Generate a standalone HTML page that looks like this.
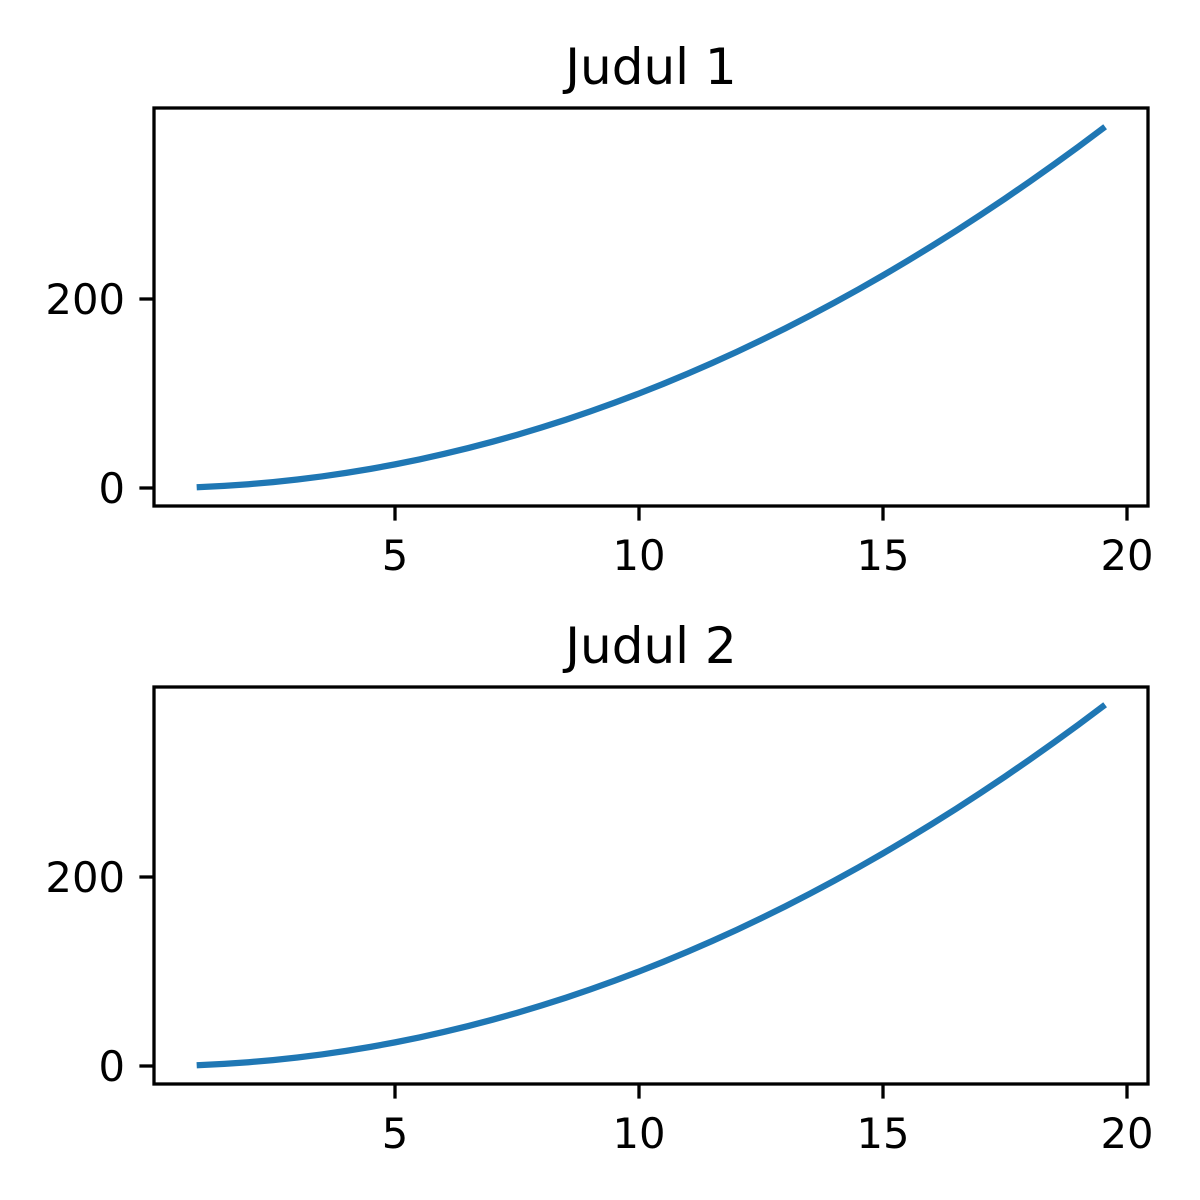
<!DOCTYPE html>
<html><head><meta charset="utf-8"><style>
html,body{margin:0;padding:0;background:#fff;}
svg{display:block;}
text{font-family:"DejaVu Sans","Liberation Sans",sans-serif;fill:#000;}
</style></head><body>
<svg id="chart" width="1200" height="1200" viewBox="0 0 1200 1200"></svg>
<script>
const xValues = [1,1.5,2,2.5,3,3.5,4,4.5,5,5.5,6,6.5,7,7.5,8,8.5,9,9.5,10,10.5,11,11.5,12,12.5,13,13.5,14,14.5,15,15.5,16,16.5,17,17.5,18,18.5,19,19.5];
const yValues1 = [1,2.25,4,6.25,9,12.25,16,20.25,25,30.25,36,42.25,49,56.25,64,72.25,81,90.25,100,110.25,121,132.25,144,156.25,169,182.25,196,210.25,225,240.25,256,272.25,289,306.25,324,342.25,361,380.25];
const yValues2 = [1,2.25,4,6.25,9,12.25,16,20.25,25,30.25,36,42.25,49,56.25,64,72.25,81,90.25,100,110.25,121,132.25,144,156.25,169,182.25,196,210.25,225,240.25,256,272.25,289,306.25,324,342.25,361,380.25];
const xTicks = [5,10,15,20];
const yTicks = [0,200];
const titles = ["Judul 1","Judul 2"];

const NS="http://www.w3.org/2000/svg";
const svg=document.getElementById('chart');
function mk(tag,attrs,parent){const e=document.createElementNS(NS,tag);for(const k in attrs)e.setAttribute(k,attrs[k]);(parent||svg).appendChild(e);return e;}

const panels=[{top:108,bottom:506,y0:488,y200:299,ys:yValues1},{top:687,bottom:1084,y0:1066,y200:877,ys:yValues2}];
const L=154,R=1148;
const xs=v=>395+(v-5)*48.8;
panels.forEach((p,i)=>{
  const g=mk('g',{});
  
  
  const ys=v=>p.y0+(p.y200-p.y0)*v/200;
  const t=mk('text',{x:(L+R)/2,y:p.top-24,'text-anchor':'middle','font-size':'50'},g);
  t.textContent=titles[i];
  
  
  const pts=xValues.map((x,j)=>xs(x).toFixed(2)+','+ys(p.ys[j]).toFixed(2)).join(' ');
  const line=mk('polyline',{points:pts,fill:'none',stroke:'#1f77b4','stroke-width':'6.25','stroke-linecap':'square'},g);
  
  
  const fr=mk('rect',{x:L,y:p.top,width:R-L,height:p.bottom-p.top,fill:'none',stroke:'#000','stroke-width':'3.3'},g);
  
  
  xTicks.forEach(v=>{
    const x=xs(v);
    mk('line',{x1:x,x2:x,y1:p.bottom,y2:p.bottom+14.6,stroke:'#000','stroke-width':'3.3'},g);
    const tt=mk('text',{x:x,y:p.bottom+64,'text-anchor':'middle','font-size':'41.7'},g);
    tt.textContent=v;
    
    
  });
  yTicks.forEach(v=>{
    const y=ys(v);
    mk('line',{x1:L,x2:L-14.6,y1:y,y2:y,stroke:'#000','stroke-width':'3.3'},g);
    const tt=mk('text',{x:L-29,y:y+15,'text-anchor':'end','font-size':'41.7'},g);
    tt.textContent=v;
    
    
  });
});
</script>
</body></html>
